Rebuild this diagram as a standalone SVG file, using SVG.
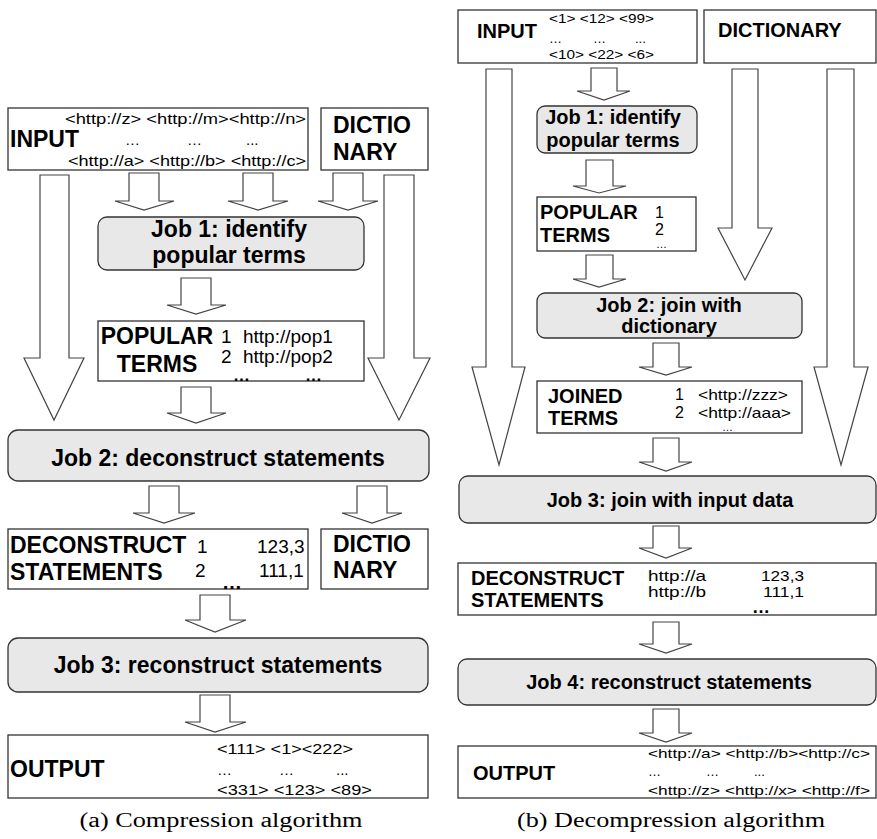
<svg xmlns="http://www.w3.org/2000/svg" width="877" height="839" viewBox="0 0 877 839">
<style>
.box{fill:#fff;stroke:#333;stroke-width:1.3}
.job{fill:#e8e8e8;stroke:#333;stroke-width:1.3}
.arr{fill:#fff;stroke:#444;stroke-width:1.2;stroke-linejoin:miter}
.b{font-family:"Liberation Sans",Arial,sans-serif;font-weight:bold;fill:#000}
.n{font-family:"Liberation Sans",Arial,sans-serif;fill:#000}
.c{font-family:"Liberation Serif","DejaVu Serif",serif;fill:#000;font-size:20px}
.L{font-size:23px}
.R{font-size:20px}
.m{text-anchor:middle}
</style>
<rect width="877" height="839" fill="#fff"/>
<g id="connectors">
<polygon class="arr" points="40,175 69,175 69,358 84,358 54,420 24,358 40,358"/>
<polygon class="arr" points="384,175 414,175 414,358 430,358 399,420 368,358 384,358"/>
<polygon class="arr" points="129,173 159,173 159,201 174,201 144,210 115,201 129,201"/>
<polygon class="arr" points="243,173 273,173 273,201 288,201 258,210 228,201 243,201"/>
<polygon class="arr" points="333,173 363,173 363,201 378,201 348,210 318,201 333,201"/>
<polygon class="arr" points="181,278 211,278 211,305 226,305 196,314 167,305 181,305"/>
<polygon class="arr" points="181,387 211,387 211,413 226,413 196,423 167,413 181,413"/>
<polygon class="arr" points="149,486 179,486 179,513 195,513 164,523 133,513 149,513"/>
<polygon class="arr" points="357,486 387,486 387,513 402,513 372,523 342,513 357,513"/>
<polygon class="arr" points="200,595 230,595 230,620 246,620 215,632 185,620 200,620"/>
<polygon class="arr" points="200,695 230,695 230,722 246,722 215,732 185,722 200,722"/>
<polygon class="arr" points="486,69 512,69 512,367 525,367 499,465 472,367 486,367"/>
<polygon class="arr" points="732,69 758,69 758,228 772,228 745,280 718,228 732,228"/>
<polygon class="arr" points="827,69 854,69 854,367 868,367 841,465 814,367 827,367"/>
<polygon class="arr" points="591,68 617,68 617,91 630,91 604,100 577,91 591,91"/>
<polygon class="arr" points="586,160 613,160 613,186 626,186 599,193 573,186 586,186"/>
<polygon class="arr" points="586,255 613,255 613,279 626,279 599,287 573,279 586,279"/>
<polygon class="arr" points="653,343 679,343 679,367 692,367 666,375 639,367 653,367"/>
<polygon class="arr" points="653,438 679,438 679,462 692,462 666,471 639,462 653,462"/>
<polygon class="arr" points="653,526 679,526 679,548 692,548 666,558 639,548 653,548"/>
<polygon class="arr" points="653,622 679,622 679,644 692,644 666,653 639,644 653,644"/>
<polygon class="arr" points="653,709 679,709 679,733 692,733 666,742 639,733 653,733"/>
</g>
<g id="a-input">
<rect class="box" x="8" y="108" width="300" height="62"/>
<text class="b L" x="10" y="147">INPUT</text>
<text class="n" font-size="15" x="65" y="124" textLength="241" lengthAdjust="spacingAndGlyphs">&lt;http://z&gt; &lt;http://m&gt;&lt;http://n&gt;</text>
<text class="n" font-size="15" x="125" y="145">…</text>
<text class="n" font-size="15" x="187" y="145">…</text>
<text class="n" font-size="15" x="246" y="145">...</text>
<text class="n" font-size="15" x="68" y="166" textLength="238" lengthAdjust="spacingAndGlyphs">&lt;http://a&gt; &lt;http://b&gt; &lt;http://c&gt;</text>
</g>
<g id="a-dict1">
<rect class="box" x="321" y="108" width="107" height="62"/>
<text class="b L" x="333" y="133">DICTIO</text>
<text class="b L" x="333" y="160">NARY</text>
</g>
<g id="a-job1">
<rect class="job" x="98" y="217" width="266" height="53" rx="9"/>
<text class="b L m" x="229" y="237">Job 1: identify</text>
<text class="b L m" x="229" y="263">popular terms</text>
</g>
<g id="a-popular">
<rect class="box" x="98" y="321" width="266" height="60"/>
<text class="b L m" x="157" y="344">POPULAR</text>
<text class="b L m" x="157" y="372">TERMS</text>
<text class="n" font-size="19" x="221" y="343">1</text>
<text class="n" font-size="19" x="243" y="343">http://pop1</text>
<text class="n" font-size="19" x="221" y="363">2</text>
<text class="n" font-size="19" x="243" y="363">http://pop2</text>
<text class="b" font-size="17" x="233" y="381">…</text>
<text class="b" font-size="17" x="305" y="381">…</text>
</g>
<g id="a-job2">
<rect class="job" x="8" y="430" width="421" height="51" rx="10"/>
<text class="b L m" x="218" y="466">Job 2: deconstruct statements</text>
</g>
<g id="a-deconstruct">
<rect class="box" x="8" y="529" width="300" height="60"/>
<text class="b L" x="10" y="553">DECONSTRUCT</text>
<text class="b L" x="10" y="580">STATEMENTS</text>
<text class="n" font-size="19" x="197" y="553">1</text>
<text class="n" font-size="19" x="257" y="553">123,3</text>
<text class="n" font-size="19" x="195" y="577">2</text>
<text class="n" font-size="19" x="259" y="577">111,1</text>
<text class="b" font-size="20" x="222" y="589">…</text>
</g>
<g id="a-dict2">
<rect class="box" x="321" y="529" width="107" height="60"/>
<text class="b L" x="333" y="552">DICTIO</text>
<text class="b L" x="333" y="578">NARY</text>
</g>
<g id="a-job3">
<rect class="job" x="8" y="638" width="420" height="54" rx="10"/>
<text class="b L m" x="218" y="673">Job 3: reconstruct statements</text>
</g>
<g id="a-output">
<rect class="box" x="8" y="735" width="420" height="63"/>
<text class="b L" x="10" y="777">OUTPUT</text>
<text class="n" font-size="15" x="217" y="754" textLength="136" lengthAdjust="spacingAndGlyphs">&lt;111&gt; &lt;1&gt;&lt;222&gt;</text>
<text class="n" font-size="15" x="217" y="775">…</text>
<text class="n" font-size="15" x="279" y="775">…</text>
<text class="n" font-size="15" x="336" y="775">...</text>
<text class="n" font-size="15" x="217" y="795" textLength="155" lengthAdjust="spacingAndGlyphs">&lt;331&gt; &lt;123&gt; &lt;89&gt;</text>
</g>
<text class="c m" x="221" y="827" textLength="283" lengthAdjust="spacingAndGlyphs">(a) Compression algorithm</text>
<g id="b-input">
<rect class="box" x="458" y="10" width="239" height="53"/>
<text class="b R" x="477" y="38">INPUT</text>
<text class="n" font-size="13" x="549" y="23" textLength="105" lengthAdjust="spacingAndGlyphs">&lt;1&gt; &lt;12&gt; &lt;99&gt;</text>
<text class="n" font-size="13" x="549" y="43">…</text>
<text class="n" font-size="13" x="593" y="43">…</text>
<text class="n" font-size="13" x="635" y="43">...</text>
<text class="n" font-size="13" x="549" y="59" textLength="105" lengthAdjust="spacingAndGlyphs">&lt;10&gt; &lt;22&gt; &lt;6&gt;</text>
</g>
<g id="b-dict">
<rect class="box" x="704" y="10" width="172" height="53"/>
<text class="b R" x="718" y="37">DICTIONARY</text>
</g>
<g id="b-job1">
<rect class="job" x="537" y="106" width="160" height="47" rx="8"/>
<text class="b R m" x="613" y="124">Job 1: identify</text>
<text class="b R m" x="613" y="147">popular terms</text>
</g>
<g id="b-popular">
<rect class="box" x="537" y="197" width="159" height="54"/>
<text class="b R" x="540" y="219">POPULAR</text>
<text class="b R" x="540" y="242">TERMS</text>
<text class="n" font-size="16" x="655" y="218">1</text>
<text class="n" font-size="16" x="655" y="235">2</text>
<text class="n" font-size="11" x="656" y="248">…</text>
</g>
<g id="b-job2">
<rect class="job" x="537" y="293" width="265" height="45" rx="8"/>
<text class="b R m" x="669" y="312">Job 2: join with</text>
<text class="b R m" x="669" y="333">dictionary</text>
</g>
<g id="b-joined">
<rect class="box" x="537" y="381" width="265" height="52"/>
<text class="b R" x="548" y="403">JOINED</text>
<text class="b R" x="548" y="425">TERMS</text>
<text class="n" font-size="16" x="675" y="400">1</text>
<text class="n" font-size="15" x="698" y="400" textLength="90" lengthAdjust="spacingAndGlyphs">&lt;http://zzz&gt;</text>
<text class="n" font-size="16" x="675" y="418">2</text>
<text class="n" font-size="15" x="698" y="418" textLength="93" lengthAdjust="spacingAndGlyphs">&lt;http://aaa&gt;</text>
<text class="n" font-size="11" x="722" y="431">…</text>
</g>
<g id="b-job3">
<rect class="job" x="459" y="476" width="417" height="47" rx="9"/>
<text class="b R m" x="670" y="507">Job 3: join with input data</text>
</g>
<g id="b-deconstruct">
<rect class="box" x="458" y="563" width="418" height="52"/>
<text class="b R" x="471" y="585">DECONSTRUCT</text>
<text class="b R" x="471" y="607">STATEMENTS</text>
<text class="n" font-size="14" x="648" y="581" textLength="58" lengthAdjust="spacingAndGlyphs">http://a</text>
<text class="n" font-size="14" x="648" y="597" textLength="58" lengthAdjust="spacingAndGlyphs">http://b</text>
<text class="n" font-size="15" x="761" y="581" textLength="43" lengthAdjust="spacingAndGlyphs">123,3</text>
<text class="n" font-size="15" x="763" y="597" textLength="41" lengthAdjust="spacingAndGlyphs">111,1</text>
<text class="b" font-size="18" x="752" y="613">…</text>
</g>
<g id="b-job4">
<rect class="job" x="458" y="659" width="418" height="46" rx="9"/>
<text class="b R m" x="669" y="689">Job 4: reconstruct statements</text>
</g>
<g id="b-output">
<rect class="box" x="458" y="746" width="418" height="52"/>
<text class="b R" x="473" y="780">OUTPUT</text>
<text class="n" font-size="13" x="648" y="758" textLength="222" lengthAdjust="spacingAndGlyphs">&lt;http://a&gt; &lt;http://b&gt;&lt;http://c&gt;</text>
<text class="n" font-size="13" x="648" y="776">…</text>
<text class="n" font-size="13" x="706" y="776">…</text>
<text class="n" font-size="13" x="754" y="776">...</text>
<text class="n" font-size="13" x="648" y="795" textLength="222" lengthAdjust="spacingAndGlyphs">&lt;http://z&gt; &lt;http://x&gt; &lt;http://f&gt;</text>
</g>
<text class="c m" x="671" y="827" textLength="308" lengthAdjust="spacingAndGlyphs">(b) Decompression algorithm</text>
</svg>
